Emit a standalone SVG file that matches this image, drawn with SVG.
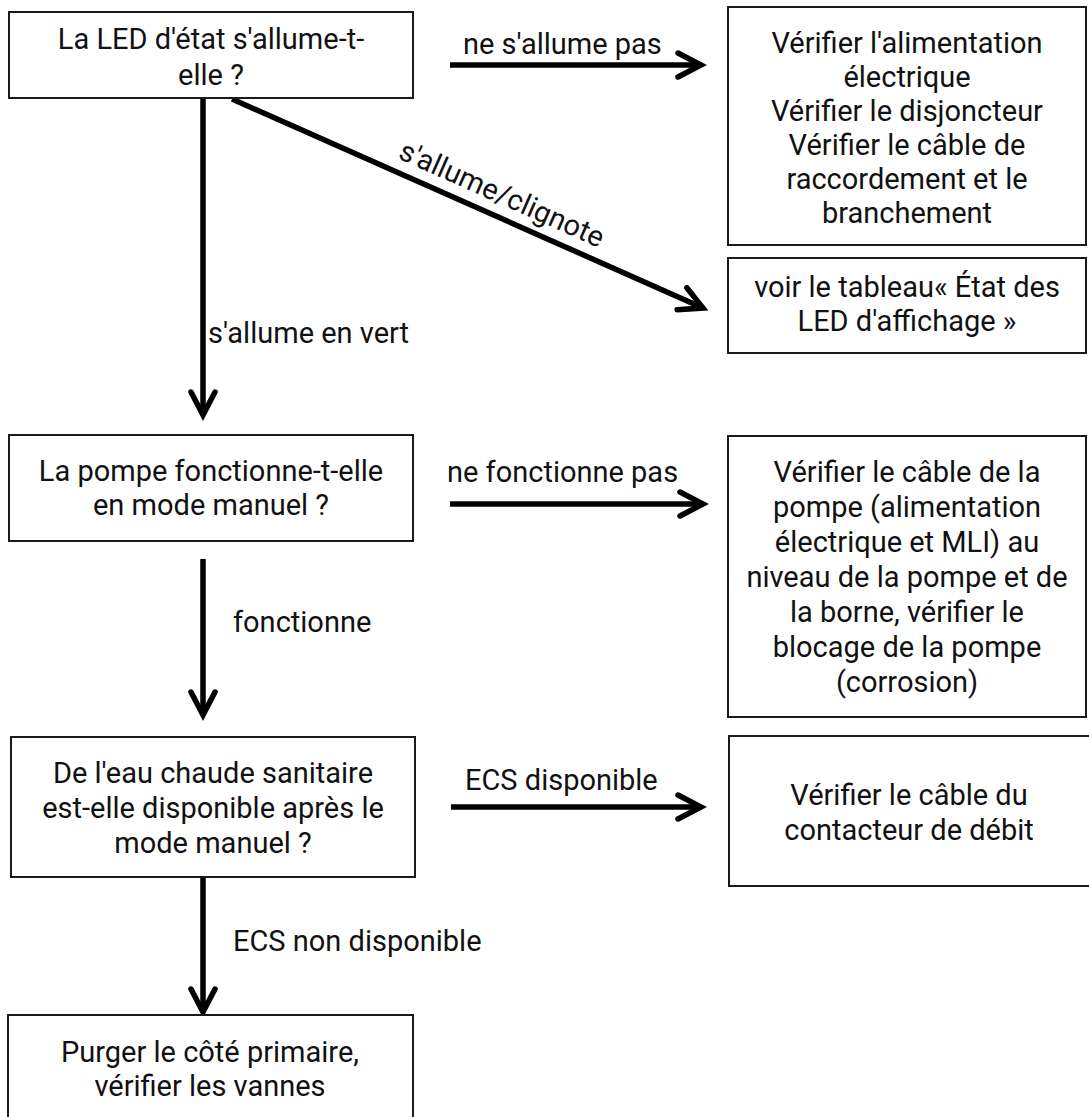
<svg xmlns="http://www.w3.org/2000/svg" width="1089" height="1117" viewBox="0 0 1089 1117">
<defs>
<style>
.box{fill:#fff;stroke:#1a1a1a;stroke-width:2}
text{font-family:Roboto,"Liberation Sans",sans-serif;font-size:29px;fill:#111}
.c{text-anchor:middle}
.edge{stroke:#000;stroke-width:5.5;fill:none}
.head{stroke:#000;stroke-width:5.5;fill:none;stroke-linejoin:miter;stroke-linecap:round}
</style>
<marker id="arr" markerUnits="userSpaceOnUse" viewBox="-30 -15 34 30" refX="0" refY="0" markerWidth="34" markerHeight="30" orient="auto" overflow="visible">
<path d="M-23,-12 L0,0 L-23,12" class="head"/>
</marker>
</defs>
<rect width="1089" height="1117" fill="#fff"/>
<g id="connectors">
<line class="edge" x1="450" y1="65" x2="701" y2="65" marker-end="url(#arr)"/>
<line class="edge" x1="232" y1="99" x2="703" y2="308" marker-end="url(#arr)"/>
<line class="edge" x1="203" y1="98" x2="203" y2="415" marker-end="url(#arr)"/>
<line class="edge" x1="450" y1="504" x2="703" y2="504" marker-end="url(#arr)"/>
<line class="edge" x1="203" y1="559" x2="203" y2="715" marker-end="url(#arr)"/>
<line class="edge" x1="451" y1="807" x2="701" y2="807" marker-end="url(#arr)"/>
<line class="edge" x1="203" y1="877" x2="203" y2="1012" marker-end="url(#arr)"/>
<text x="463" y="54">ne s'allume pas</text>
<text class="c" x="498" y="203" transform="rotate(24 498 203)">s'allume/clignote</text>
<text x="208" y="343">s'allume en vert</text>
<text x="447" y="482">ne fonctionne pas</text>
<text x="233" y="632">fonctionne</text>
<text x="465" y="790">ECS disponible</text>
<text x="233" y="951">ECS non disponible</text>
</g>
<g id="n1">
<rect class="box" x="9" y="12" width="404" height="86"/>
<text class="c" x="211" y="49">La LED d'état s'allume-t-</text>
<text class="c" x="211" y="85">elle ?</text>
</g>
<g id="n2">
<rect class="box" x="728" y="7" width="358" height="238"/>
<text class="c" x="907" y="53">Vérifier l'alimentation</text>
<text class="c" x="907" y="87">électrique</text>
<text class="c" x="907" y="121">Vérifier le disjoncteur</text>
<text class="c" x="907" y="155">Vérifier le câble de</text>
<text class="c" x="907" y="189">raccordement et le</text>
<text class="c" x="907" y="223">branchement</text>
</g>
<g id="n3">
<rect class="box" x="728" y="258" width="358" height="95"/>
<text class="c" x="907" y="297">voir le tableau« État des</text>
<text class="c" x="907" y="331">LED d'affichage »</text>
</g>
<g id="n4">
<rect class="box" x="9" y="435" width="404" height="106"/>
<text class="c" x="211" y="481">La pompe fonctionne-t-elle</text>
<text class="c" x="211" y="515">en mode manuel ?</text>
</g>
<g id="n5">
<rect class="box" x="728" y="436" width="358" height="281"/>
<text class="c" x="907" y="482">Vérifier le câble de la</text>
<text class="c" x="907" y="517">pompe (alimentation</text>
<text class="c" x="907" y="552">électrique et MLI) au</text>
<text class="c" x="907" y="587">niveau de la pompe et de</text>
<text class="c" x="907" y="622">la borne, vérifier le</text>
<text class="c" x="907" y="657">blocage de la pompe</text>
<text class="c" x="907" y="692">(corrosion)</text>
</g>
<g id="n6">
<rect class="box" x="11" y="737" width="404" height="140"/>
<text class="c" x="213" y="783">De l'eau chaude sanitaire</text>
<text class="c" x="213" y="818">est-elle disponible après le</text>
<text class="c" x="213" y="853">mode manuel ?</text>
</g>
<g id="n7">
<rect class="box" x="729" y="736" width="362" height="150"/>
<text class="c" x="909" y="805">Vérifier le câble du</text>
<text class="c" x="909" y="840">contacteur de débit</text>
</g>
<g id="n8">
<rect class="box" x="8" y="1015" width="405" height="110"/>
<text class="c" x="210" y="1062">Purger le côté primaire,</text>
<text class="c" x="210" y="1096">vérifier les vannes</text>
</g>
</svg>
